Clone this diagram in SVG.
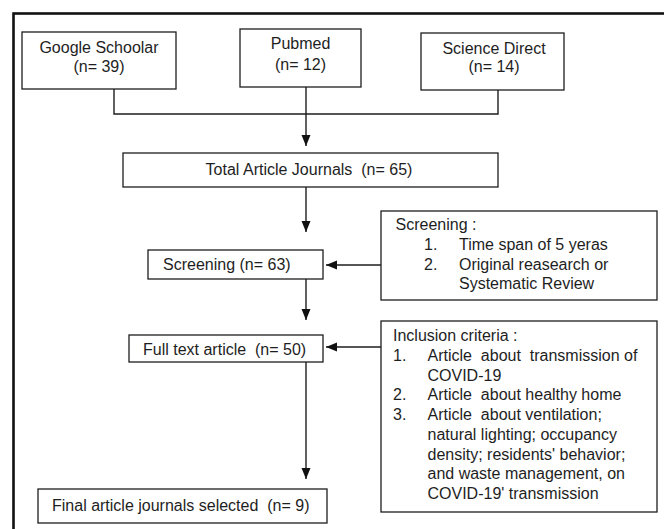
<svg xmlns="http://www.w3.org/2000/svg" width="664" height="529" viewBox="0 0 664 529">
<style>
.box{fill:#fff;stroke:#1e1e1e;stroke-width:1.3}
.ln{fill:none;stroke:#1e1e1e;stroke-width:1.4}
text{font-family:"Liberation Sans",Arial,sans-serif;font-size:16px;fill:#1e1e1e;white-space:pre}
.c{text-anchor:middle}
</style>
<defs>
<marker id="ah" markerUnits="userSpaceOnUse" markerWidth="11" markerHeight="10" refX="11" refY="5" orient="auto">
<path d="M0,0.5 L11,5 L0,9.5 z" fill="#111"/>
</marker>
</defs>
<rect x="0" y="0" width="664" height="529" fill="#fff"/>
<rect x="13.5" y="13.5" width="700" height="600" fill="none" stroke="#111" stroke-width="2.6"/>
<g id="connectors">
<polyline class="ln" points="114,89 114,114 498,114 498,90"/>
<line class="ln" x1="306" y1="87" x2="306" y2="146" marker-end="url(#ah)"/>
<line class="ln" x1="306" y1="187" x2="306" y2="232" marker-end="url(#ah)"/>
<line class="ln" x1="306" y1="279" x2="306" y2="320" marker-end="url(#ah)"/>
<line class="ln" x1="306" y1="362" x2="306" y2="479" marker-end="url(#ah)"/>
<line class="ln" x1="381" y1="265" x2="326" y2="265" marker-end="url(#ah)"/>
<line class="ln" x1="381" y1="347" x2="326" y2="347" marker-end="url(#ah)"/>
</g>
<g id="google">
<rect class="box" x="22" y="32" width="154" height="57"/>
<text class="c" x="99" y="52.5">Google Schoolar</text>
<text class="c" x="99" y="72">(n= 39)</text>
</g>
<g id="pubmed">
<rect class="box" x="240" y="29" width="121" height="58"/>
<text class="c" x="300.5" y="49">Pubmed</text>
<text class="c" x="300.5" y="70">(n= 12)</text>
</g>
<g id="sciencedirect">
<rect class="box" x="421" y="33" width="143" height="57"/>
<text class="c" x="494" y="53.5">Science Direct</text>
<text class="c" x="494" y="72">(n= 14)</text>
</g>
<g id="total">
<rect class="box" x="123" y="153" width="375" height="34"/>
<text class="c" x="309" y="174.5">Total Article Journals  (n= 65)</text>
</g>
<g id="screening">
<rect class="box" x="148" y="250" width="175" height="29"/>
<text x="163" y="270">Screening (n= 63)</text>
</g>
<g id="fulltext">
<rect class="box" x="129" y="335" width="194" height="27"/>
<text x="143" y="355">Full text article  (n= 50)</text>
</g>
<g id="final">
<rect class="box" x="38" y="489" width="289" height="34"/>
<text x="52" y="510.5">Final article journals selected  (n= 9)</text>
</g>
<g id="screening-criteria">
<rect class="box" x="381" y="211" width="276" height="89"/>
<text x="395.5" y="230">Screening :</text>
<text x="424" y="249.7">1.</text>
<text x="459" y="249.7">Time span of 5 yeras</text>
<text x="424" y="269.5">2.</text>
<text x="459" y="269.5">Original reasearch or</text>
<text x="459" y="289.2">Systematic Review</text>
</g>
<g id="inclusion-criteria">
<rect class="box" x="381" y="321" width="276" height="191"/>
<text x="393" y="341">Inclusion criteria :</text>
<text x="393" y="360.7">1.</text>
<text x="427.5" y="360.7">Article  about  transmission of</text>
<text x="427.5" y="380.5">COVID-19</text>
<text x="393" y="400.2">2.</text>
<text x="427.5" y="400.2">Article  about healthy home</text>
<text x="393" y="420">3.</text>
<text x="427.5" y="420">Article  about ventilation;</text>
<text x="427.5" y="439.7">natural lighting; occupancy</text>
<text x="427.5" y="459.5">density; residents' behavior;</text>
<text x="427.5" y="479.2">and waste management, on</text>
<text x="427.5" y="499">COVID-19' transmission</text>
</g>
</svg>
